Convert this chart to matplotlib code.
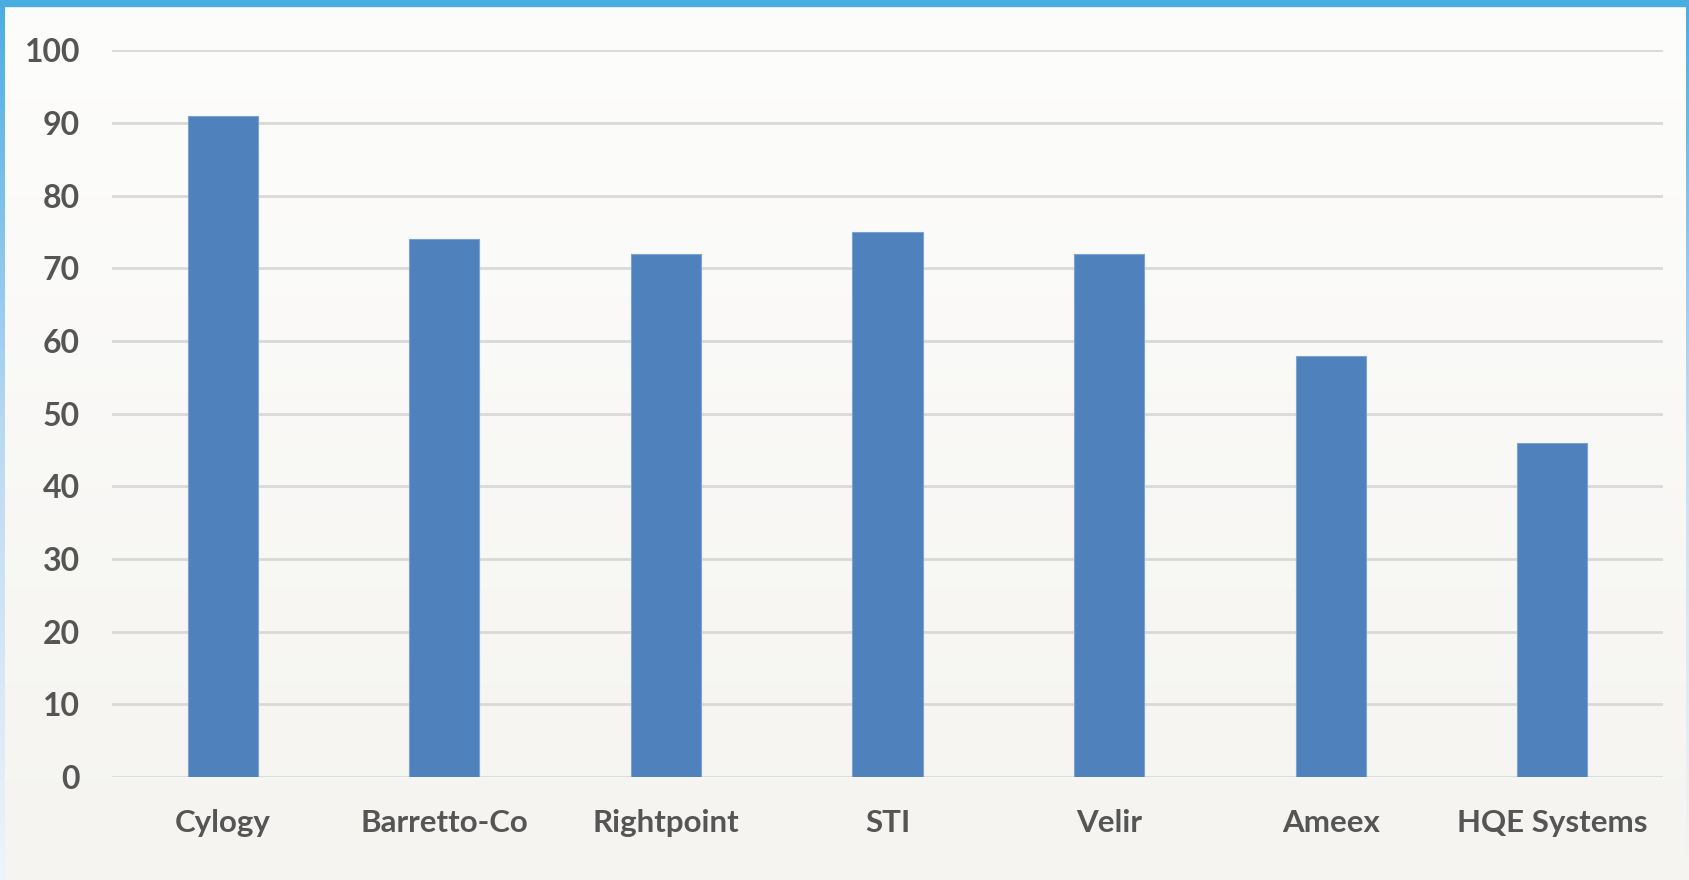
import numpy as np
import matplotlib.pyplot as plt
from matplotlib.colors import LinearSegmentedColormap

# company scores
companies = ["Cylogy", "Barretto-Co", "Rightpoint", "STI", "Velir", "Ameex", "HQE Systems"]
scores = [91, 74, 72, 75, 72, 58, 46]
y_ticks = list(range(0, 101, 10))

W, H, DPI = 1689, 880, 100
text_color = "#555555"
bar_color = "#4f81bd"

fig = plt.figure(figsize=(W / DPI, H / DPI), dpi=DPI)

# background: soft vertical gradient, white at top to warm grey at bottom
bg = fig.add_axes([0, 0, 1, 1], zorder=0)
grad = np.linspace(0, 1, 256).reshape(-1, 1)
bg_cmap = LinearSegmentedColormap.from_list("bg", ["#fdfdfc", "#f5f4f0"])
bg.imshow(grad, aspect="auto", cmap=bg_cmap, extent=[0, W, 0, H], origin="upper")
# blue frame: solid along the top, fading down the sides
side = np.linspace(0, 1, 256).reshape(-1, 1)
left_cmap = LinearSegmentedColormap.from_list("lb", ["#4aade2", "#bcd9f3", "#eef4fb"])
bg.imshow(side, aspect="auto", cmap=left_cmap, extent=[0, 5, 0, H], origin="upper")
right_cmap = LinearSegmentedColormap.from_list("rb", ["#4aade2", "#c5def4", "#f6f5f1"])
bg.imshow(side, aspect="auto", cmap=right_cmap, extent=[W - 3, W, 0, H], origin="upper")
bg.fill_between([0, W], H - 6, H, color="#4aade2")
bg.set_xlim(0, W)
bg.set_ylim(0, H)
bg.axis("off")

# main plot area (pixel coords: x 112..1663, y 50..777)
ax = fig.add_axes([112 / W, 1 - 777 / H, (1663 - 112) / W, (777 - 50.5) / H], zorder=1)
ax.patch.set_alpha(0)
x = np.arange(len(companies))
ax.bar(x, scores, width=0.316, color=bar_color, edgecolor="#7da3d3", linewidth=0.8, zorder=3)

ax.set_xlim(-0.5, len(companies) - 0.5)
ax.set_ylim(0, 100)
ax.set_yticks(y_ticks)
ax.set_xticks(x)
ax.set_xticklabels(companies)
ax.grid(axis="y", color="#d9d9d9", linewidth=2, zorder=0)
ax.set_axisbelow(True)
for s in ax.spines.values():
    s.set_visible(False)
ax.tick_params(axis="both", length=0, colors=text_color)
ax.tick_params(axis="y", pad=23)
ax.tick_params(axis="x", pad=23)
for lbl in ax.get_yticklabels():
    lbl.set_fontfamily("Lato")
    lbl.set_fontweight("bold")
    lbl.set_fontsize(23)
for lbl in ax.get_xticklabels():
    lbl.set_fontfamily("Lato")
    lbl.set_fontweight("bold")
    lbl.set_fontsize(22.5)

fig.savefig("out.png", dpi=DPI)
